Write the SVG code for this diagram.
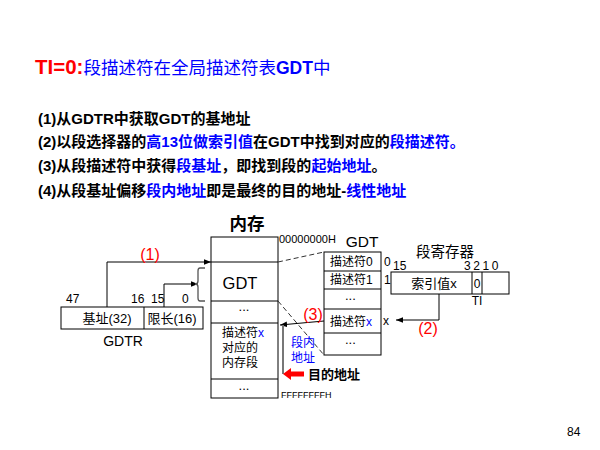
<svg xmlns="http://www.w3.org/2000/svg" width="600" height="450" viewBox="0 0 600 450">
<defs>
<style>
text{font-family:"Liberation Sans","Noto Sans CJK SC",sans-serif;fill:#000}
.b{font-weight:bold}
.blue{fill:#0000ff}
.red{fill:#ff0000}
.s{font-size:12px}
.m{font-size:13px}
.xs{font-size:11px}
.lab{font-size:16px}
.box{fill:#fff;stroke:#000;stroke-width:1}
.ln{fill:none;stroke:#000;stroke-width:1}
.dash{fill:none;stroke:#333;stroke-width:1;stroke-dasharray:5,3}
</style>
<marker id="ah" viewBox="0 0 10 10" refX="10" refY="5" markerWidth="7" markerHeight="7" orient="auto" markerUnits="userSpaceOnUse"><path d="M0,1 L10,5 L0,9 z" fill="#000"/></marker>
</defs>
<rect width="600" height="450" fill="#fff"/>
<g id="title">
<text x="35" y="74" class="b" font-size="20.5"><tspan class="red">TI=0:</tspan><tspan class="blue" font-weight="normal" font-size="17.5">段描述符在全局描述符表</tspan><tspan class="blue" font-size="17.5">GDT</tspan><tspan class="blue" font-weight="normal" font-size="17.5">中</tspan></text>
</g>
<g id="steps" class="b" font-size="15">
<text x="38" y="124">(1)从GDTR中获取GDT的基地址</text>
<text x="38" y="147">(2)以段选择器的<tspan class="blue">高13位做索引值</tspan>在GDT中找到对应的<tspan class="blue">段描述符。</tspan></text>
<text x="38" y="171">(3)从段描述符中获得<tspan class="blue">段基址</tspan>，即找到段的<tspan class="blue">起始地址</tspan>。</text>
<text x="38" y="196">(4)从段基址偏移<tspan class="blue">段内地址</tspan>即是最终的目的地址-<tspan class="blue">线性地址</tspan></text>
</g>
<g id="memory">
<text x="247" y="230" class="b" font-size="17.5" text-anchor="middle">内存</text>
<rect x="211" y="237" width="67" height="161" class="box"/>
<line x1="211" y1="262" x2="278" y2="262" class="ln"/>
<line x1="211" y1="301" x2="278" y2="301" class="ln"/>
<line x1="211" y1="323" x2="278" y2="323" class="ln"/>
<line x1="211" y1="379" x2="278" y2="379" class="ln"/>
<text x="240" y="289" font-size="16.5" text-anchor="middle">GDT</text>
<text x="244" y="311" class="m" text-anchor="middle">...</text>
<text x="222" y="337" class="s">描述符<tspan class="blue">x</tspan></text>
<text x="222" y="352" class="s">对应的</text>
<text x="222" y="367" class="s">内存段</text>
<text x="244" y="390" class="m" text-anchor="middle">...</text>
<text x="279" y="243" class="xs">00000000H</text>
<text x="281" y="398" font-size="9">FFFFFFFFH</text>
</g>
<g id="gdt-table">
<text x="362" y="247" font-size="15.5" text-anchor="middle">GDT</text>
<rect x="324" y="252" width="57" height="103" class="box"/>
<line x1="324" y1="271" x2="381" y2="271" class="ln"/>
<line x1="324" y1="289" x2="381" y2="289" class="ln"/>
<line x1="324" y1="309" x2="381" y2="309" class="ln"/>
<line x1="324" y1="333" x2="381" y2="333" class="ln"/>
<text x="330" y="266" class="s">描述符0</text>
<text x="330" y="284" class="s">描述符1</text>
<text x="345" y="300" class="m">...</text>
<text x="330" y="326" class="s">描述符<tspan class="blue">x</tspan></text>
<text x="345" y="344" class="m">...</text>
<text x="384" y="266" class="s">0</text>
<text x="384" y="284" class="s">1</text>
<text x="383" y="325" class="s">x</text>
</g>
<g id="selector">
<text x="445" y="257" font-size="14.5" text-anchor="middle">段寄存器</text>
<text x="393" y="270" class="s">15</text>
<text x="464" y="270" class="s" letter-spacing="2.6">3210</text>
<rect x="391" y="272" width="118" height="22" class="box"/>
<line x1="472" y1="272" x2="472" y2="294" class="ln"/>
<line x1="482" y1="272" x2="482" y2="294" class="ln"/>
<text x="434" y="288" class="m" text-anchor="middle">索引值x</text>
<text x="477" y="288" class="s" text-anchor="middle">0</text>
<text x="477" y="305" class="s" text-anchor="middle">TI</text>
</g>
<g id="gdtr">
<rect x="61" y="307" width="142" height="22" class="box"/>
<line x1="144" y1="307" x2="144" y2="329" class="ln"/>
<text x="107" y="323" class="m" text-anchor="middle">基址(32)</text>
<text x="172" y="323" class="m" text-anchor="middle">限长(16)</text>
<text x="66" y="303" class="s">47</text>
<text x="131" y="303" class="s">16</text>
<text x="151" y="303" class="s">15</text>
<text x="182" y="303" class="s">0</text>
<text x="123" y="346" font-size="14" text-anchor="middle">GDTR</text>
</g>
<g id="connectors">
<polyline points="107,307 107,262 211,262" class="ln" marker-end="url(#ah)"/>
<text x="150" y="260" class="lab red" text-anchor="middle">(1)</text>
<polyline points="164,307 164,284 198,284" class="ln" marker-end="url(#ah)"/>
<path d="M205,268 H200 Q198,268 198,271 V281 Q198,284 195,284 Q198,284 198,287 V298 Q198,301 200,301 H205" fill="none" stroke="#555" stroke-width="1.3"/>
<line x1="278" y1="262" x2="324" y2="252" class="dash"/>
<line x1="278" y1="301" x2="324" y2="355" class="dash"/>
<polyline points="439,294 439,320 396,320" class="ln" marker-end="url(#ah)"/>
<text x="428" y="334" class="lab red" text-anchor="middle">(2)</text>
<line x1="324" y1="321" x2="280" y2="325" class="ln" marker-end="url(#ah)"/>
<text x="313" y="320" class="lab red" text-anchor="middle">(3)</text>
<line x1="283" y1="325" x2="283" y2="374" stroke="#777" stroke-width="2"/>
<text x="291" y="347" class="s blue">段内</text>
<text x="291" y="362" class="s blue">地址</text>
<path d="M283,374 L291,368 L291,371.5 L304,371.5 L304,376.5 L291,376.5 L291,380 z" fill="#ff0000"/>
<text x="308" y="379" class="b" font-size="13">目的地址</text>
</g>
<text x="567" y="436" class="s">84</text>
</svg>
